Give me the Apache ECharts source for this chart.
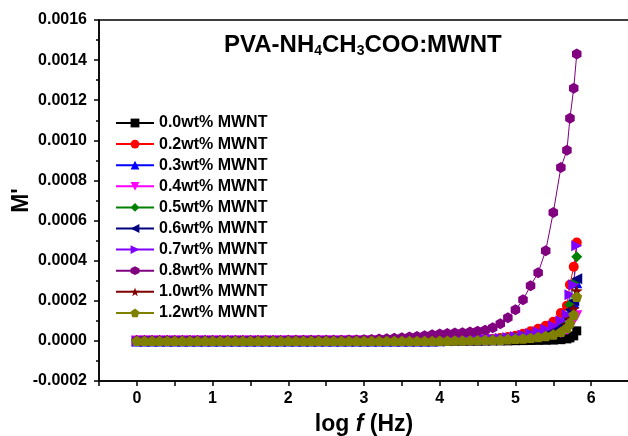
<!DOCTYPE html>
<html>
<head>
<meta charset="utf-8">
<script src="https://cdn.jsdelivr.net/npm/echarts@6/dist/echarts.min.js"></script>
<style>
  html, body { margin: 0; padding: 0; background: #fff; }
  #main { width: 628px; height: 436px; }
</style>
</head>
<body>
<div id="main"></div>
<script>
// log f (Hz) sample points
const logF = [
    0.0, 0.1, 0.2, 0.3, 0.4, 0.5, 0.6, 0.7, 0.8, 0.9,
    1.0, 1.1, 1.2, 1.3, 1.4, 1.5, 1.6, 1.7, 1.8, 1.9,
    2.0, 2.1, 2.2, 2.3, 2.4, 2.5, 2.6, 2.7, 2.8, 2.9,
    3.0, 3.1, 3.2, 3.3, 3.4, 3.5, 3.6, 3.7, 3.8, 3.9,
    4.0, 4.1, 4.2, 4.3, 4.4, 4.5, 4.6, 4.7, 4.8, 4.9,
    5.0, 5.1, 5.2, 5.3, 5.4, 5.5, 5.6, 5.68, 5.72, 5.77,
    5.81
];

// M' values, in units of 1e-5
const UNIT = 1e-5;
const m00 = [
    0, 0, 0, 0, 0, 0, 0, 0, 0, 0,
    0, 0, 0, 0, 0, 0, 0, 0, 0, 0,
    0, 0, 0, 0, 0, 0, 0, 0, 0, 0,
    0, 0, 0, 0, 0, 0, 0, 0, 0, 0,
    0, 0, 0, 0, 0, 0, 0, 0, 0, 0,
    0.1, 0.15, 0.2, 0.25, 0.3, 0.4, 0.6, 1.0, 1.5, 2.5,
    5
];
const m02 = [
    0, 0, 0, 0, 0, 0, 0, 0, 0, 0,
    0, 0, 0, 0, 0, 0, 0, 0, 0, 0,
    0, 0, 0, 0, 0, 0, 0, 0, 0, 0,
    0, 0, 0, 0, 0, 0, 0, 0, 0, 0,
    0.1, 0.15, 0.2, 0.3, 0.4, 0.5, 0.7, 1.0, 1.4, 1.9,
    2.6, 3.6, 4.8, 6.0, 7.5, 9.5, 13.9, 17.5, 28, 37,
    49
];
const m03 = [
    0, 0, 0, 0, 0, 0, 0, 0, 0, 0,
    0, 0, 0, 0, 0, 0, 0, 0, 0, 0,
    0, 0, 0, 0, 0, 0, 0, 0, 0, 0,
    0, 0, 0, 0, 0, 0, 0, 0, 0, 0,
    0.1, 0.15, 0.2, 0.3, 0.4, 0.5, 0.6, 0.8, 1.0, 1.3,
    1.7, 2.2, 2.8, 3.5, 4.5, 5.5, 7.5, 10, 14, 19,
    29
];
const m04 = [
    0, 0, 0, 0, 0, 0, 0, 0, 0, 0,
    0, 0, 0, 0, 0, 0, 0, 0, 0, 0,
    0, 0, 0, 0, 0, 0, 0, 0, 0, 0,
    0, 0, 0, 0, 0, 0, 0, 0, 0, 0,
    0.1, 0.1, 0.15, 0.2, 0.25, 0.3, 0.4, 0.5, 0.6, 0.8,
    1.0, 1.2, 1.5, 1.9, 2.4, 3.0, 4.0, 5.5, 7.5, 10,
    12.5
];
const m05 = [
    0, 0, 0, 0, 0, 0, 0, 0, 0, 0,
    0, 0, 0, 0, 0, 0, 0, 0, 0, 0,
    0, 0, 0, 0, 0, 0, 0, 0, 0, 0,
    0, 0, 0, 0, 0, 0, 0, 0, 0, 0,
    0.1, 0.15, 0.2, 0.25, 0.3, 0.4, 0.5, 0.7, 0.9, 1.2,
    1.6, 2.0, 2.6, 3.3, 4.2, 5.5, 8, 12, 18, 29,
    42
];
const m06 = [
    0, 0, 0, 0, 0, 0, 0, 0, 0, 0,
    0, 0, 0, 0, 0, 0, 0, 0, 0, 0,
    0, 0, 0, 0, 0, 0, 0, 0, 0, 0,
    0, 0, 0, 0, 0, 0, 0, 0, 0, 0,
    0.1, 0.15, 0.2, 0.25, 0.3, 0.4, 0.5, 0.7, 0.9, 1.2,
    1.5, 2.0, 2.5, 3.2, 4.0, 5.2, 7, 10, 15.5, 20,
    31
];
const m07 = [
    0, 0, 0, 0, 0, 0, 0, 0, 0, 0,
    0, 0, 0, 0, 0, 0, 0, 0, 0, 0,
    0, 0, 0, 0, 0, 0, 0, 0, 0, 0,
    0, 0, 0, 0, 0, 0, 0, 0, 0, 0,
    0.2, 0.25, 0.3, 0.4, 0.5, 0.6, 0.8, 1.0, 1.3, 1.7,
    2.2, 2.9, 3.7, 4.6, 5.8, 7.5, 10, 13, 23, 28,
    47.5
];
const m08 = [
    0.2, 0.2, 0.2, 0.2, 0.2, 0.2, 0.2, 0.2, 0.2, 0.2,
    0.2, 0.2, 0.2, 0.2, 0.2, 0.2, 0.2, 0.2, 0.2, 0.2,
    0.3, 0.3, 0.3, 0.3, 0.3, 0.3, 0.3, 0.3, 0.4, 0.5,
    0.6, 0.7, 0.9, 1.1, 1.3, 1.6, 1.9, 2.2, 2.6, 3.0,
    3.4, 3.7, 3.9, 4.1, 4.4, 4.8, 5.3, 6.5, 8.6, 11.5,
    15.5, 20.5, 27.5, 34, 45, 64, 86.4, 95, 111, 126,
    143
];
const m10 = [
    0, 0, 0, 0, 0, 0, 0, 0, 0, 0,
    0, 0, 0, 0, 0, 0, 0, 0, 0, 0,
    0, 0, 0, 0, 0, 0, 0, 0, 0, 0,
    0, 0, 0, 0, 0, 0, 0, 0, 0, 0,
    0.1, 0.1, 0.15, 0.2, 0.25, 0.3, 0.4, 0.5, 0.6, 0.8,
    1.0, 1.3, 1.7, 2.2, 2.8, 3.6, 5, 8, 11, 16,
    25
];
const m12 = [
    0, 0, 0, 0, 0, 0, 0, 0, 0, 0,
    0, 0, 0, 0, 0, 0, 0, 0, 0, 0,
    0, 0, 0, 0, 0, 0, 0, 0, 0, 0,
    0, 0, 0, 0, 0, 0, 0, 0, 0, 0,
    0.1, 0.12, 0.15, 0.2, 0.25, 0.3, 0.4, 0.5, 0.6, 0.8,
    1.0, 1.2, 1.5, 1.9, 2.4, 3.2, 4.5, 6.5, 9, 13,
    22
];

const names = ['0.0wt% MWNT', '0.2wt% MWNT', '0.3wt% MWNT', '0.4wt% MWNT', '0.5wt% MWNT',
    '0.6wt% MWNT', '0.7wt% MWNT', '0.8wt% MWNT', '1.0wt% MWNT', '1.2wt% MWNT'];
const values = [m00, m02, m03, m04, m05, m06, m07, m08, m10, m12];
const colors = ['#000000', '#ff0000', '#0000ff', '#ff00ff', '#008000',
    '#000080', '#8000ff', '#800080', '#800000', '#808000'];

const hexagon = 'path://M0,-10 L8.66,-5 L8.66,5 L0,10 L-8.66,5 L-8.66,-5Z';
const star = 'path://M0,-10 L2.35,-3.24 L9.51,-3.09 L3.8,1.24 L5.88,8.09 L0,4 L-5.88,8.09 L-3.8,1.24 L-9.51,-3.09 L-2.35,-3.24Z';
const pentagon = 'path://M0,-10 L9.51,-3.09 L5.88,8.09 L-5.88,8.09 L-9.51,-3.09Z';
const symbols = ['rect', 'circle', 'triangle', 'triangle', 'diamond',
    'triangle', 'triangle', hexagon, star, pentagon];
const rotations = [0, 0, 0, 180, 0, 90, -90, 0, 0, 0];
const sizes = [9, 10, 11, 11, 11, 11, 11, 11, 12, 11];

const FONT = 'Liberation Sans, Arial, sans-serif';

const myChart = echarts.init(document.getElementById('main'));

const option = {
    animation: false,
    backgroundColor: '#fff',
    title: {
        text: '{a|PVA-NH}{s|4}{a|CH}{s|3}{a|COO:MWNT}',
        left: 219,
        top: 27,
        textStyle: {
            rich: {
                a: { fontSize: 24, fontWeight: 'bold', fontFamily: FONT, color: '#000', lineHeight: 26 },
                s: { fontSize: 14, fontWeight: 'bold', fontFamily: FONT, color: '#000', lineHeight: 26, verticalAlign: 'bottom' }
            }
        }
    },
    grid: {
        left: 99,
        right: -1,
        top: 20,
        bottom: 55,
        outerBoundsMode: 'none',
        containLabel: false,
        show: true,
        borderColor: '#000',
        borderWidth: 1.5
    },
    legend: {
        orient: 'vertical',
        left: 110,
        top: 110,
        itemWidth: 38,
        itemHeight: 11,
        itemGap: 5.1,
        data: names,
        textStyle: {
            fontSize: 16,
            fontWeight: 'bold',
            fontFamily: FONT,
            color: '#000'
        }
    },
    xAxis: {
        type: 'value',
        min: -0.5,
        max: 6.5,
        interval: 0.5,
        name: '{a|log }{i|f}{a| (Hz)}',
        nameLocation: 'middle',
        nameGap: 32,
        nameTextStyle: {
            rich: {
                a: { fontSize: 23, fontWeight: 'bold', fontFamily: FONT, color: '#000' },
                i: { fontSize: 23, fontWeight: 'bold', fontStyle: 'italic', fontFamily: FONT, color: '#000' }
            }
        },
        axisLine: { onZero: false, lineStyle: { color: '#000', width: 1.5 } },
        axisTick: { inside: false, length: 5, lineStyle: { color: '#000', width: 1.5 } },
        axisLabel: {
            margin: 10,
            fontSize: 16,
            fontWeight: 'bold',
            fontFamily: FONT,
            color: '#000',
            formatter: v => (Math.abs(v - Math.round(v)) < 1e-6 && v >= 0 && v <= 6) ? String(Math.round(v)) : ''
        },
        splitLine: { show: false }
    },
    yAxis: {
        type: 'value',
        min: -0.0002,
        max: 0.0016,
        interval: 0.0002,
        name: "M'",
        nameLocation: 'middle',
        nameGap: 66,
        nameTextStyle: { fontSize: 23, fontWeight: 'bold', fontFamily: FONT, color: '#000', padding: [0, 0, 0, 0] },
        nameMoveOverlap: false,
        axisLine: { show: true, onZero: false, lineStyle: { color: '#000', width: 1.5 } },
        axisTick: { show: true, inside: false, length: 5, lineStyle: { color: '#000', width: 1.5 } },
        minorTick: { show: true, splitNumber: 2, length: 3, lineStyle: { color: '#000', width: 1.5 } },
        axisLabel: {
            margin: 12,
            fontSize: 16,
            fontWeight: 'bold',
            fontFamily: FONT,
            color: '#000',
            formatter: v => v.toFixed(4)
        },
        splitLine: { show: false }
    },
    series: names.map((name, k) => ({
        name: name,
        type: 'line',
        data: logF.map((x, i) => [x, values[k][i] * UNIT]),
        symbol: symbols[k],
        symbolRotate: rotations[k],
        symbolKeepAspect: true,
        symbolSize: sizes[k],
        showAllSymbol: true,
        lineStyle: { color: colors[k], width: 1 },
        itemStyle: { color: colors[k] },
        emphasis: { disabled: true }
    }))
};

myChart.setOption(option);
</script>
</body>
</html>
